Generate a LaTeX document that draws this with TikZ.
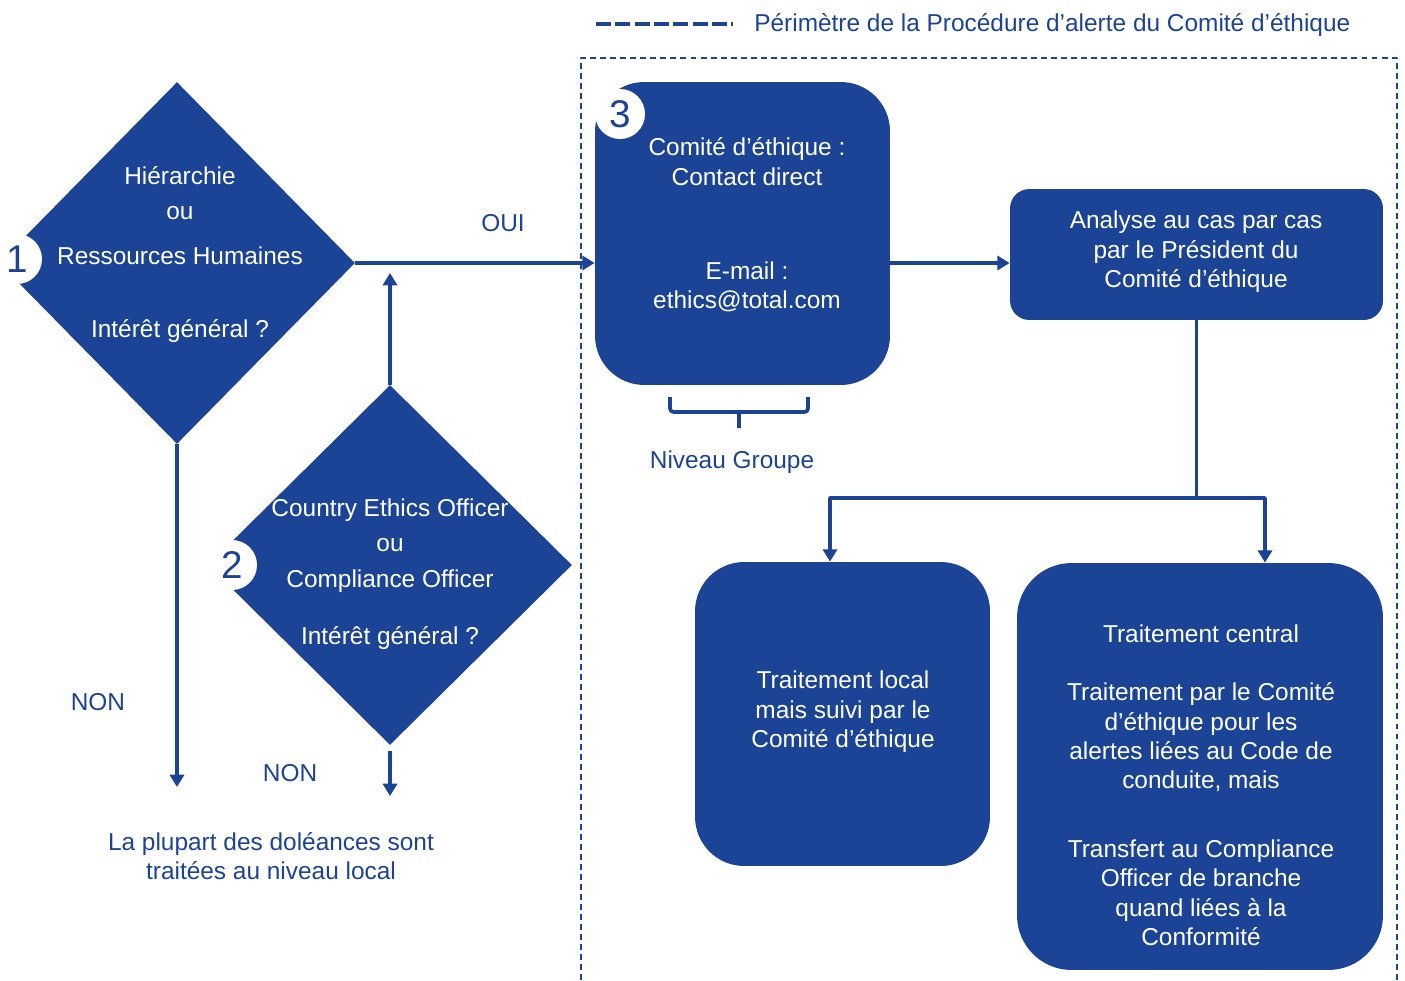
\documentclass[tikz,border=0pt]{standalone}
\usepackage{fontspec}
\setmainfont{Liberation Sans}
\usetikzlibrary{shapes.geometric,arrows.meta}
\definecolor{bleu}{RGB}{27,67,150}
\begin{document}
\begin{tikzpicture}[x=0.02cm,y=-0.02cm,line join=round,font=\fontsize{13.9}{16.7}\selectfont,
	losange/.style={diamond,fill=bleu,inner sep=0pt,aspect=1},
	boite/.style={rectangle,fill=bleu,inner sep=0pt},
	blanc/.style={text=white,align=center,inner sep=0pt},
	texte/.style={text=bleu,align=center,inner sep=0pt},
	num/.style={circle,fill=white,text=bleu,minimum size=1cm,inner sep=0pt,font=\fontsize{22}{22}\selectfont},
	fleche/.style={draw=bleu,line width=2.1pt,-{Triangle[length=7pt,width=8pt]}},
	trait/.style={draw=bleu,line width=2.1pt}]
	\useasboundingbox (0,0) rectangle (1405,980);
	\draw[bleu,line width=0.8pt,dash pattern=on 3.4pt off 2.3pt] (581,980) -- (581,58) -- (1397,58) -- (1397,980);
	\coordinate (lg1) at (596,24);
	\coordinate (lg2) at (733,24);
	\draw[bleu,line width=2.8pt,dash pattern=on 8.5pt off 2.5pt] (lg1) -- (lg2);
	\node[texte,anchor=west] (leg) at (754,25) {Périmètre de la Procédure d’alerte du Comité d’éthique};
	\node[losange,minimum width=7.12cm,minimum height=7.24cm] (d1) at (177,263) {};
	\node[blanc] (t1) at (180,255) {Hiérarchie\\[3pt]ou\\[9pt]Ressources Humaines\\[25pt]Intérêt général ?};
	\node[losange,minimum width=7.28cm,minimum height=7.2cm] (d2) at (390,565) {};
	\node[blanc] (t2) at (390,574) {Country Ethics Officer\\[3.7pt]ou\\[3.7pt]Compliance Officer\\[15.6pt]Intérêt général ?};
	\node[boite,rounded corners=28pt,minimum width=5.9cm,minimum height=6.06cm] (b3) at (742.5,233.5) {};
	\node[blanc] (t3) at (747,225) {Comité d’éthique :\\Contact direct\\[37pt]E-mail :\\ethics@total.com};
	\node[boite,rounded corners=11pt,minimum width=7.46cm,minimum height=2.62cm] (ana) at (1196.5,254.5) {};
	\node[blanc] (ta) at (1196,252) {Analyse au cas par cas\\par le Président du\\Comité d’éthique};
	\node[boite,rounded corners=28pt,minimum width=5.9cm,minimum height=6.08cm] (loc) at (842.5,714) {};
	\node[blanc] (tl) at (843,712) {Traitement local\\mais suivi par le\\Comité d’éthique};
	\node[boite,rounded corners=31pt,minimum width=7.32cm,minimum height=8.14cm] (cen) at (1200,766.5) {};
	\node[blanc] (tc) at (1201,785) {Traitement central\\[16.7pt]Traitement par le Comité\\d’éthique pour les\\alertes liées au Code de\\conduite, mais\\[22.4pt]Transfert au Compliance\\Officer de branche\\quand liées à la\\Conformité};
	\foreach \n/\x/\y in {1/17/259,2/232/565,3/620/114}{\node[num] (c\n) at (\x,\y) {\n};}
	\coordinate (j) at (390,273);
	\coordinate (n1) at (177,787);
	\coordinate (n2) at (390,796);
	\coordinate (gL) at (830,498);
	\coordinate (gR) at (1265,498);
	\draw[fleche] (d1.east) -- (d1.east -| b3.west);
	\draw[fleche] (d2.north) -- (j);
	\draw[fleche] (d1.south) -- (n1);
	\draw[fleche,shorten <=3pt] (d2.south) -- (n2);
	\draw[fleche] (b3.east |- d1.east) -- (ana.west |- d1.east);
	\draw[trait] (ana.south) -- (ana.south |- gR);
	\draw[fleche] (gR) -- (gL) -- (gL |- loc.north);
	\draw[fleche] (gL) -- (gR) -- (gR |- cen.north);
	\draw[trait,rounded corners=2pt] (670,397) -- (670,412) -- (808,412) -- (808,397) (739,412) -- (739,428);
	\node[texte] (oui) at (503,223) {OUI};
	\node[texte] (non1) at (98,702) {NON};
	\node[texte] (non2) at (290,773) {NON};
	\node[texte] (grp) at (732,462) {Niveau Groupe};
	\node[texte] (loc2) at (271,856) {La plupart des doléances sont\\traitées au niveau local};
\end{tikzpicture}
\end{document}
